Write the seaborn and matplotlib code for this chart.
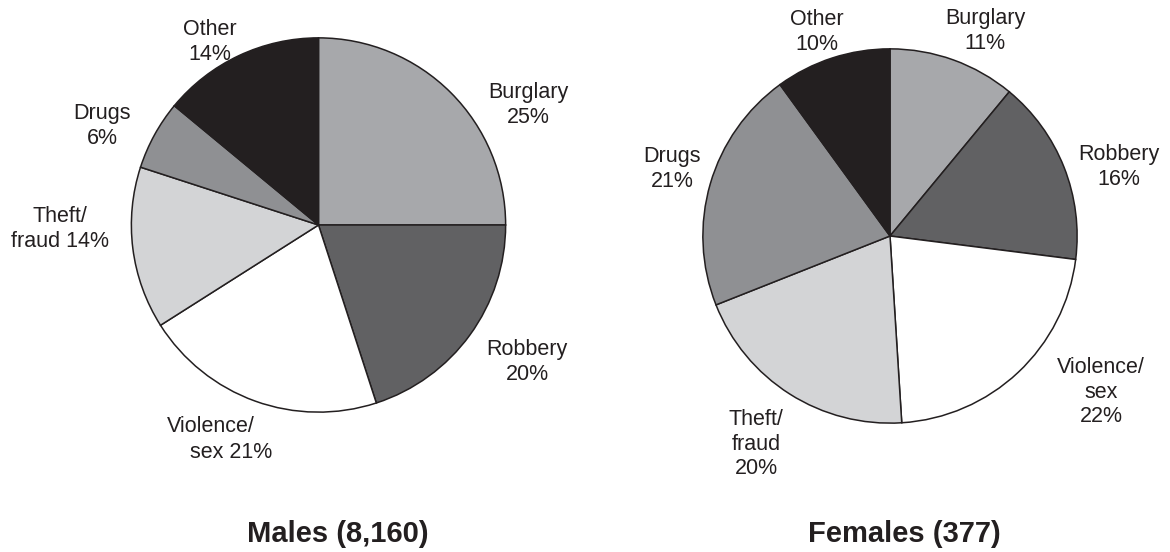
import matplotlib.pyplot as plt
import seaborn as sns

# offence shares, percent, read clockwise from 12 o'clock
categories = ["Burglary", "Robbery", "Violence/sex", "Theft/fraud", "Drugs", "Other"]
males = [25, 20, 21, 14, 6, 14]
females = [11, 16, 22, 20, 21, 10]
titles = ["Males (8,160)", "Females (377)"]

# greyscale fills
palette = {
    "Burglary": "#a7a8ab",
    "Robbery": "#616163",
    "Violence/sex": "#ffffff",
    "Theft/fraud": "#d3d4d6",
    "Drugs": "#8f9093",
    "Other": "#231f20",
}

# how each label is broken over lines
male_fmt = {
    "Burglary": "Burglary\n{}%",
    "Robbery": "Robbery\n{}%",
    "Theft/fraud": "Theft/\nfraud {}%",
    "Drugs": "Drugs\n{}%",
    "Other": "Other\n{}%",
}
female_fmt = {
    "Burglary": "Burglary\n{}%",
    "Robbery": "Robbery\n{}%",
    "Violence/sex": "Violence/\nsex\n{}%",
    "Theft/fraud": "Theft/\nfraud\n{}%",
    "Drugs": "Drugs\n{}%",
    "Other": "Other\n{}%",
}

sns.set_theme(style="white")
plt.rcParams['font.family'] = ['Liberation Sans', 'DejaVu Sans']

W, H = 1170, 552
fig = plt.figure(figsize=(W / 100, H / 100), dpi=100)


def put(x, y, s, size=15.5, **kw):
    # x, y in pixels from top-left
    fig.text(x / W, 1 - y / H, s, ha='center', va='center', fontsize=size,
             color='#231f20', **kw)


def draw_pie(values, cx, cy, r):
    ax = fig.add_axes([(cx - r) / W, (H - cy - r) / H, 2 * r / W, 2 * r / H])
    ax.pie(values, colors=[palette[c] for c in categories], startangle=90,
           counterclock=False, radius=1,
           wedgeprops=dict(edgecolor='#231f20', linewidth=1.1))
    ax.set_xlim(-1.01, 1.01)
    ax.set_ylim(-1.01, 1.01)
    ax.axis('off')
    return ax


draw_pie(males, 318.5, 225, 189)
draw_pie(females, 890, 236, 189)

val_m = dict(zip(categories, males))
val_f = dict(zip(categories, females))

# left pie labels
put(210, 42, male_fmt["Other"].format(val_m["Other"]))
put(528, 105, male_fmt["Burglary"].format(val_m["Burglary"]))
put(527, 362, male_fmt["Robbery"].format(val_m["Robbery"]))
put(102, 126, male_fmt["Drugs"].format(val_m["Drugs"]))
put(60, 229, male_fmt["Theft/fraud"].format(val_m["Theft/fraud"]))
put(211, 427, "Violence/")
put(231, 453, "sex {}%".format(val_m["Violence/sex"]))

# right pie labels
put(817, 32, female_fmt["Other"].format(val_f["Other"]))
put(985, 31, female_fmt["Burglary"].format(val_f["Burglary"]))
put(672, 169, female_fmt["Drugs"].format(val_f["Drugs"]))
put(1119, 167, female_fmt["Robbery"].format(val_f["Robbery"]))
put(1101, 392, female_fmt["Violence/sex"].format(val_f["Violence/sex"]))
put(756, 444, female_fmt["Theft/fraud"].format(val_f["Theft/fraud"]))

# titles
put(338, 534, titles[0], size=21, fontweight='bold')
put(904, 534, titles[1], size=21, fontweight='bold')

fig.savefig("out.png", dpi=100, facecolor='white')
